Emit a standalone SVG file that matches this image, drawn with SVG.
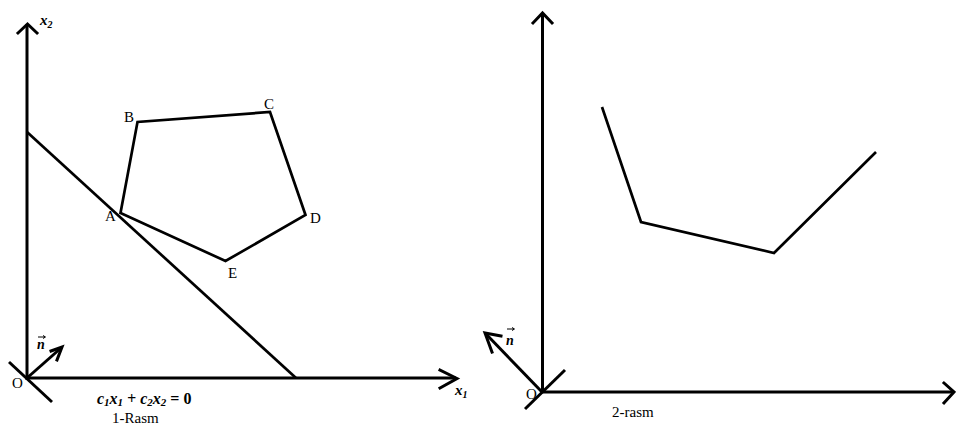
<svg xmlns="http://www.w3.org/2000/svg" width="956" height="426" viewBox="0 0 956 426">
<style>
.ax{stroke:#000;stroke-width:3;fill:none;stroke-linecap:butt}
.ln{stroke:#000;stroke-width:2.7;fill:none;stroke-linejoin:miter}
.hd{stroke:#000;stroke-width:3;fill:none;stroke-linecap:square;stroke-linejoin:miter}
.t{font-family:"Liberation Serif","Times New Roman",serif;font-size:15px;fill:#000}
.b{font-family:"Liberation Serif","Times New Roman",serif;font-weight:bold;font-style:italic;fill:#000}
</style>
<rect width="956" height="426" fill="#fff"/>
<g id="diagram1">
  <g id="axes1">
    <line class="ax" x1="27" y1="380" x2="27" y2="24"/>
    <polyline class="hd" points="18,33 27.5,24 37,33"/>
    <line class="ax" x1="26" y1="378" x2="456" y2="378"/>
    <polyline class="hd" points="440,370 457,378.5 440,388"/>
    <line class="ax" x1="9" y1="362" x2="52" y2="402"/>
  </g>
  <g id="normal1">
    <line class="ax" x1="27" y1="378" x2="61" y2="348"/>
    <polyline class="hd" points="51,351 62,347 57,360"/>
    <text class="b" x="37" y="349" font-size="14">n</text>
    <line x1="38" y1="337" x2="45" y2="337" stroke="#000" stroke-width="1"/>
    <polyline points="43,335.5 45.5,337 43,338.5" fill="none" stroke="#000" stroke-width="1"/>
  </g>
  <g id="line1">
    <line class="ln" x1="27" y1="132" x2="296" y2="378"/>
  </g>
  <g id="pentagon">
    <polygon class="ln" points="120.5,213 137.5,122 270,112 305.5,215 225.5,261"/>
  </g>
  <g id="labels1">
    <text class="t" x="105" y="221">A</text>
    <text class="t" x="124" y="122">B</text>
    <text class="t" x="264" y="109">C</text>
    <text class="t" x="310" y="223">D</text>
    <text class="t" x="228" y="278">E</text>
    <text class="t" x="12" y="388" font-size="16">O</text>
    <text class="b" x="40" y="25" font-size="15">x<tspan font-size="10" dy="3">2</tspan></text>
    <text class="b" x="455" y="395" font-size="15">x<tspan font-size="10" dy="3">1</tspan></text>
    <text class="b" x="97" y="404" font-size="16">c<tspan font-size="11" dy="2">1</tspan><tspan dy="-2">x</tspan><tspan font-size="11" dy="2">1</tspan><tspan dy="-2"> + c</tspan><tspan font-size="11" dy="2">2</tspan><tspan dy="-2">x</tspan><tspan font-size="11" dy="2">2</tspan><tspan dy="-2" font-style="normal"> = 0</tspan></text>
    <text class="t" x="112" y="423" font-size="14">1-Rasm</text>
  </g>
</g>
<g id="diagram2">
  <g id="axes2">
    <line class="ax" x1="542.5" y1="393" x2="542.5" y2="14"/>
    <polyline class="hd" points="533,23 542.5,13 552,23"/>
    <line class="ax" x1="541" y1="392" x2="954" y2="392"/>
    <polyline class="hd" points="944,383 954,392 944,403"/>
    <line class="ax" x1="525" y1="409" x2="565" y2="370"/>
  </g>
  <g id="normal2">
    <line class="ax" x1="542" y1="392" x2="486" y2="334"/>
    <polyline class="hd" points="501,336 485,333 492,352"/>
    <text class="b" x="506" y="345" font-size="14">n</text>
    <line x1="507" y1="329" x2="514" y2="329" stroke="#000" stroke-width="1"/>
    <polyline points="512,327.5 514.5,329 512,330.5" fill="none" stroke="#000" stroke-width="1"/>
  </g>
  <g id="curve2">
    <polyline class="ln" points="602,107 641,222 774,253 876,152"/>
  </g>
  <text class="t" x="526" y="399" font-size="16">O</text>
  <text class="t" x="612" y="417" font-size="15">2-rasm</text>
</g>
</svg>
